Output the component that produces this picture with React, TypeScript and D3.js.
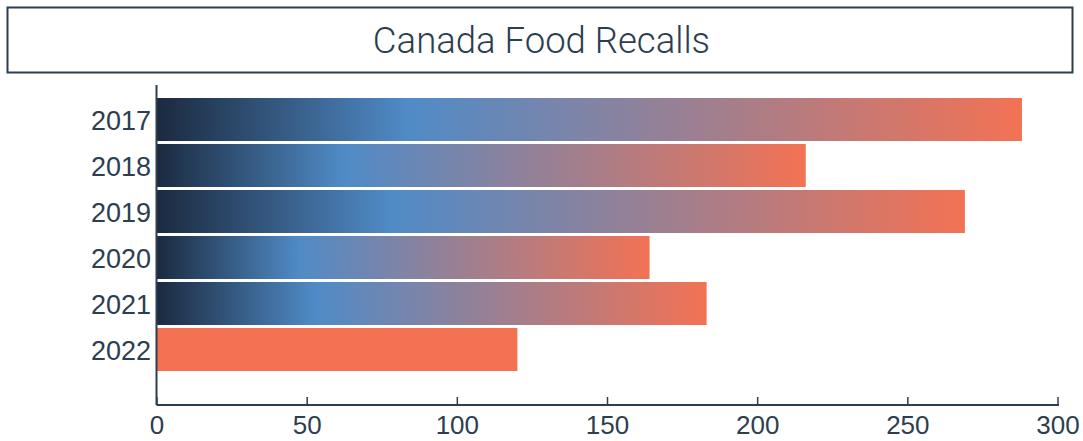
import React from "react";
import * as d3 from "d3";

const years = ["2017", "2018", "2019", "2020", "2021", "2022"];
const recalls = [288, 216, 269, 164, 183, 120];
const xTicks = [0, 50, 100, 150, 200, 250, 300];
const title = "Canada Food Recalls";

const W = 1083;
const H = 441;
const NAVY = "#1b2a3f";
const BLUE = "#508bc7";
const CORAL = "#f37254";
const TEXT = "#2c3e50";

export default function App() {
  const x = d3.scaleLinear().domain([0, 300]).range([157, 1058]);
  const y = d3
    .scaleBand<string>()
    .domain(years)
    .range([96.5, 372.5])
    .paddingInner(0.065)
    .paddingOuter(0.0325);
  const axisY = 405;
  const font = "'Liberation Sans', Arial, sans-serif";
  return (
    <svg
      width={W}
      height={H}
      style={{ position: "absolute", left: 0, top: 0 }}
      fontFamily={font}
    >
      <defs>
        <linearGradient id="barGrad" x1="0" x2="1" y1="0" y2="0">
          <stop offset="0" stopColor={NAVY} />
          <stop offset="0.29" stopColor={BLUE} />
          <stop offset="1" stopColor={CORAL} />
        </linearGradient>
      </defs>
      <rect x={7.5} y={7.5} width={1065} height={65} fill="white" stroke={TEXT} strokeWidth={2} />
      <text
        x={W / 2}
        y={53}
        textAnchor="middle"
        fontSize={36.5}
        fontFamily="Roboto, sans-serif"
        fontWeight={300}
        fill={TEXT}
      >
        {title}
      </text>
      {years.map((yr, i) => (
        <rect
          key={yr}
          x={x(0)}
          y={y(yr)}
          width={x(recalls[i]) - x(0)}
          height={y.bandwidth()}
          fill={yr === "2022" ? CORAL : "url(#barGrad)"}
        />
      ))}
      <line x1={156.5} x2={156.5} y1={85} y2={axisY} stroke={TEXT} strokeWidth={2} />
      <line x1={156.5} x2={x(300) + 1} y1={axisY} y2={axisY} stroke={TEXT} strokeWidth={2} />
      {xTicks.map((t) => (
        <g key={t}>
          <line x1={x(t)} x2={x(t)} y1={axisY} y2={axisY - 8} stroke={TEXT} strokeWidth={1.5} />
          <text x={x(t)} y={434} textAnchor="middle" fontSize={26} fill={TEXT}>
            {t}
          </text>
        </g>
      ))}
      {years.map((yr) => (
        <text
          key={yr}
          x={151}
          y={(y(yr) as number) + y.bandwidth() / 2 + 10}
          textAnchor="end"
          fontSize={27}
          fill={TEXT}
        >
          {yr}
        </text>
      ))}
    </svg>
  );
}
